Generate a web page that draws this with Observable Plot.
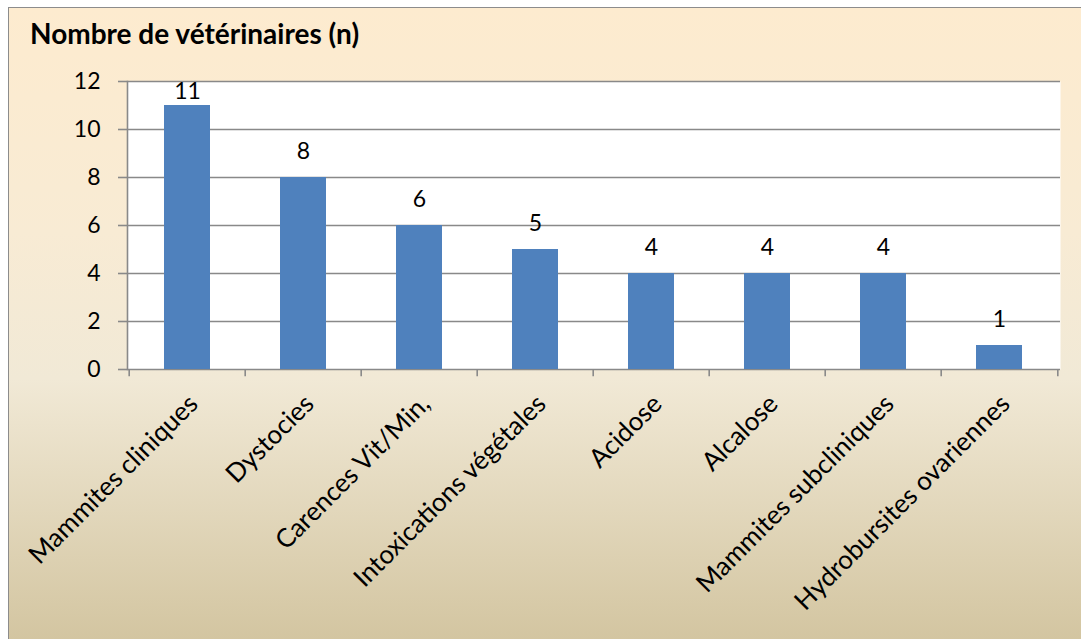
<!DOCTYPE html>
<html>
<head>
<meta charset="utf-8">
<script src="https://cdn.jsdelivr.net/npm/d3@7"></script>
<script src="https://cdn.jsdelivr.net/npm/@observablehq/plot@0.6"></script>
<style>
  html, body { margin: 0; padding: 0; background: #ffffff; width: 1081px; height: 639px; overflow: hidden; }
  #panel {
    position: absolute; left: 8px; top: 7px; width: 1090px; height: 640px;
    border: 1px solid #8c8c8c;
    background: linear-gradient(to bottom, #fdebcf 0%, #f8ebd4 35%, #f1e9d6 58%, #d2c49f 100%);
  }
  #title {
    position: absolute; left: 30px; top: 20px; margin: 0;
    font: bold 28px Lato, "Open Sans", sans-serif; line-height: 27px; color: #000;
    white-space: nowrap;
  }
  #chart { position: absolute; left: 0; top: 0; }
</style>
</head>
<body>
<div id="panel"></div>
<div id="title">Nombre de vétérinaires (n)</div>
<div id="chart"></div>
<script>
const categories = [
  "Mammites cliniques",
  "Dystocies",
  "Carences Vit/Min,",
  "Intoxications végétales",
  "Acidose",
  "Alcalose",
  "Mammites subcliniques",
  "Hydrobursites ovariennes"
];
const values = [11, 8, 6, 5, 4, 4, 4, 1];
const yTicks = [0, 2, 4, 6, 8, 10, 12];

const data = categories.map((c, i) => ({category: c, value: values[i]}));

const W = 1081, H = 639;
const mL = 127, mR = 21, mT = 81, mB = 270;
const step = (W - mL - mR) / categories.length;
const grid = "#898989";
const font = "Lato, 'Open Sans', sans-serif";

const chart = Plot.plot({
  width: W, height: H,
  marginLeft: mL, marginRight: mR, marginTop: mT, marginBottom: mB,
  style: {background: "transparent", fontFamily: font, fontSize: "22px", color: "#000", overflow: "visible"},
  x: {domain: categories, paddingInner: 0.6, paddingOuter: 0.3, axis: null},
  y: {domain: [0, 12], axis: null},
  marks: [
    Plot.frame({fill: "white", stroke: null}),
    Plot.ruleY(yTicks, {stroke: grid, strokeWidth: 1.6}),
    Plot.axisY({ticks: yTicks, tickSize: 9, tickPadding: 18, stroke: grid, strokeWidth: 1.6, fill: "#000", fontSize: 23, label: null}),
    Plot.frame({anchor: "left", stroke: grid, strokeWidth: 1.6}),
    Plot.ruleX(categories, {x: d => d, dx: -step / 2, y1: 0, y2: -0.3, stroke: grid, strokeWidth: 1.6}),
    Plot.ruleX(categories.slice(-1), {x: d => d, dx: step / 2, y1: 0, y2: -0.3, stroke: grid, strokeWidth: 1.6}),
    Plot.barY(data, {x: "category", y: "value", fill: "#4f81bd"}),
    // value labels (kept inside the plot area, as in the original)
    Plot.text(data, {x: "category", y: d => Math.min(d.value, 10.5), text: d => String(d.value),
      dy: -19, lineAnchor: "bottom", fontSize: 23, fill: "#000"}),
    Plot.text(data, {x: "category", frameAnchor: "bottom", text: "category", rotate: -45,
      textAnchor: "end", lineAnchor: "bottom", dx: 12, dy: 36, fontSize: 26, fill: "#000"})
  ]
});
document.getElementById("chart").appendChild(chart);
</script>
</body>
</html>
